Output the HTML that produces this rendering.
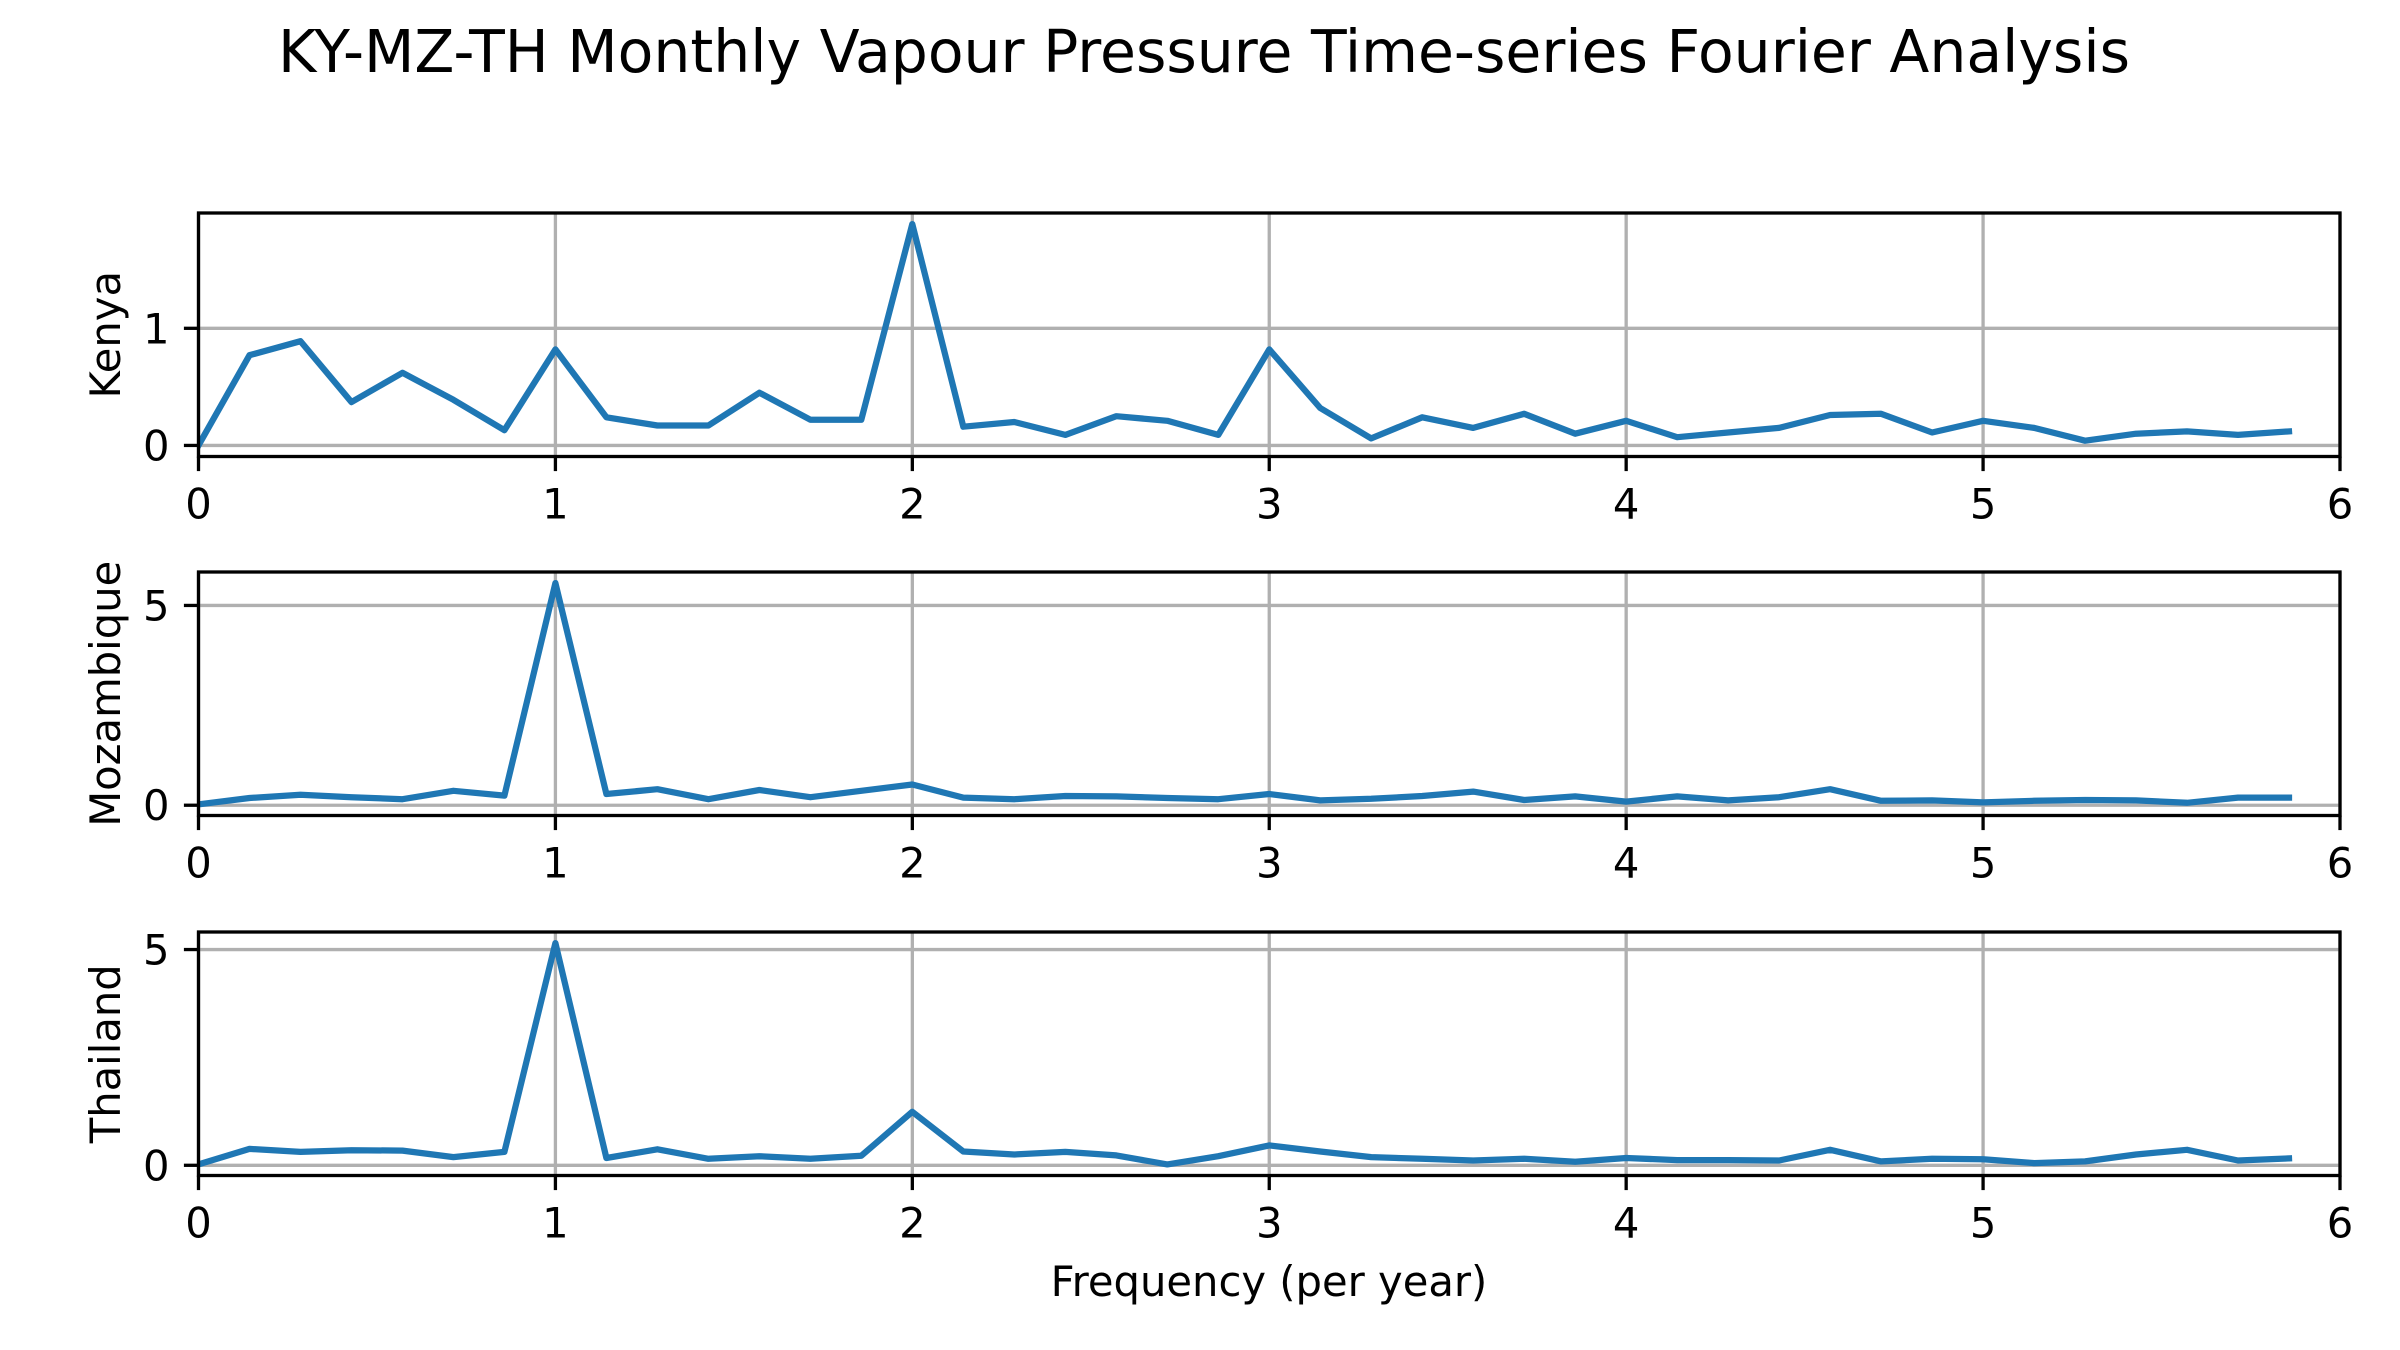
<!DOCTYPE html>
<html><head><meta charset="utf-8"><style>
html,body{margin:0;padding:0;background:#fff;}
svg{display:block;}
text{font-family:"DejaVu Sans","Liberation Sans",sans-serif;fill:#000;}
</style></head><body>
<svg id="fig" width="2400" height="1350" viewBox="0 0 2400 1350" xmlns="http://www.w3.org/2000/svg">
<rect width="2400" height="1350" fill="#fff"/>
<text x="1204" y="72" font-size="58.4" text-anchor="middle">KY-MZ-TH Monthly Vapour Pressure Time-series Fourier Analysis</text>
<text x="1269" y="1296" font-size="41.7" text-anchor="middle">Frequency (per year)</text>
</svg>
<script>
const countries = ["Kenya","Mozambique","Thailand"];
const xTicks = [0,1,2,3,4,5,6];
const yTicksKenya = [0,1];
const yTicksMozambique = [0,5];
const yTicksThailand = [0,5];
const kenyaAmp = [0,0.77,0.89,0.37,0.62,0.39,0.13,0.82,0.24,0.17,0.17,0.45,0.22,0.22,1.89,0.16,0.2,0.09,0.25,0.21,0.09,0.82,0.32,0.06,0.24,0.15,0.27,0.1,0.21,0.07,0.11,0.15,0.26,0.27,0.11,0.21,0.15,0.04,0.1,0.12,0.09,0.12];
const mozambiqueAmp = [0.02,0.18,0.26,0.2,0.15,0.36,0.24,5.56,0.28,0.4,0.15,0.38,0.2,0.36,0.52,0.19,0.15,0.23,0.22,0.18,0.15,0.28,0.12,0.16,0.23,0.34,0.13,0.22,0.09,0.22,0.12,0.2,0.4,0.11,0.12,0.07,0.11,0.13,0.12,0.06,0.19,0.19];
const thailandAmp = [0.02,0.38,0.31,0.35,0.34,0.19,0.31,5.15,0.17,0.37,0.15,0.21,0.15,0.22,1.24,0.32,0.25,0.31,0.23,0.02,0.21,0.46,0.32,0.19,0.15,0.11,0.15,0.08,0.17,0.12,0.12,0.11,0.36,0.09,0.15,0.14,0.05,0.09,0.25,0.36,0.11,0.16];

const NS="http://www.w3.org/2000/svg";
const svg=document.getElementById('fig');
function mk(tag,attrs,parent){const e=document.createElementNS(NS,tag);for(const k in attrs)e.setAttribute(k,attrs[k]);(parent||svg).appendChild(e);return e;}

const series=[kenyaAmp,mozambiqueAmp,thailandAmp];
const yticks=[yTicksKenya,yTicksMozambique,yTicksThailand];
const axTops=[213,572,932];
const axH=243.5;
const L=198.5,R=2340;
const xMin=0,xMax=6;
function sx(v){return L+(v-xMin)/(xMax-xMin)*(R-L);}

countries.forEach((name,i)=>{
  const data=series[i];
  const top=axTops[i],bot=top+axH;
  let mn=Math.min(...data),mx=Math.max(...data),r=mx-mn;
  const yMin=mn-0.05*r,yMax=mx+0.05*r;
  const sy=v=>bot-(v-yMin)/(yMax-yMin)*(bot-top);
  const g=mk('g',{});
  
  
  xTicks.forEach(t=>{
    const l=mk('line',{x1:sx(t),x2:sx(t),y1:top,y2:bot,stroke:'#b0b0b0','stroke-width':3.3},g);
    
    
  });
  yticks[i].forEach(t=>{
    const l=mk('line',{x1:L,x2:R,y1:sy(t),y2:sy(t),stroke:'#b0b0b0','stroke-width':3.3},g);
    
    
  });
  const step=1/7;
  const pts=data.map((v,k)=>sx(k*step).toFixed(1)+','+sy(v).toFixed(1)).join(' ');
  const cp=mk('clipPath',{id:'clip'+i},g);
  mk('rect',{x:L,y:top,width:R-L,height:axH},cp);
  const pl=mk('polyline',{points:pts,fill:'none',stroke:'#1f77b4','stroke-width':6.25,'stroke-linejoin':'round','stroke-linecap':'square','clip-path':'url(#clip'+i+')'},g);
  
  
  const sp=mk('rect',{x:L,y:top,width:R-L,height:axH,fill:'none',stroke:'#000','stroke-width':3.3},g);
  
  
  xTicks.forEach(t=>{
    mk('line',{x1:sx(t),x2:sx(t),y1:bot,y2:bot+14.6,stroke:'#000','stroke-width':3.3},g);
    const tx=mk('text',{x:sx(t),y:bot+62,'font-size':41.7,'text-anchor':'middle'},g);
    tx.textContent=t;
    
    
  });
  yticks[i].forEach(t=>{
    mk('line',{x1:L-14.6,x2:L,y1:sy(t),y2:sy(t),stroke:'#000','stroke-width':3.3},g);
    const ty=mk('text',{x:L-29,y:sy(t)+15,'font-size':41.7,'text-anchor':'end'},g);
    ty.textContent=t;
    
    
  });
  const cy=(top+bot)/2;
  const yl=mk('text',{x:120,y:cy,'font-size':41.7,'text-anchor':'middle',transform:'rotate(-90 120 '+cy+')'},g);
  yl.textContent=name;
  
  
});
</script>
</body></html>
